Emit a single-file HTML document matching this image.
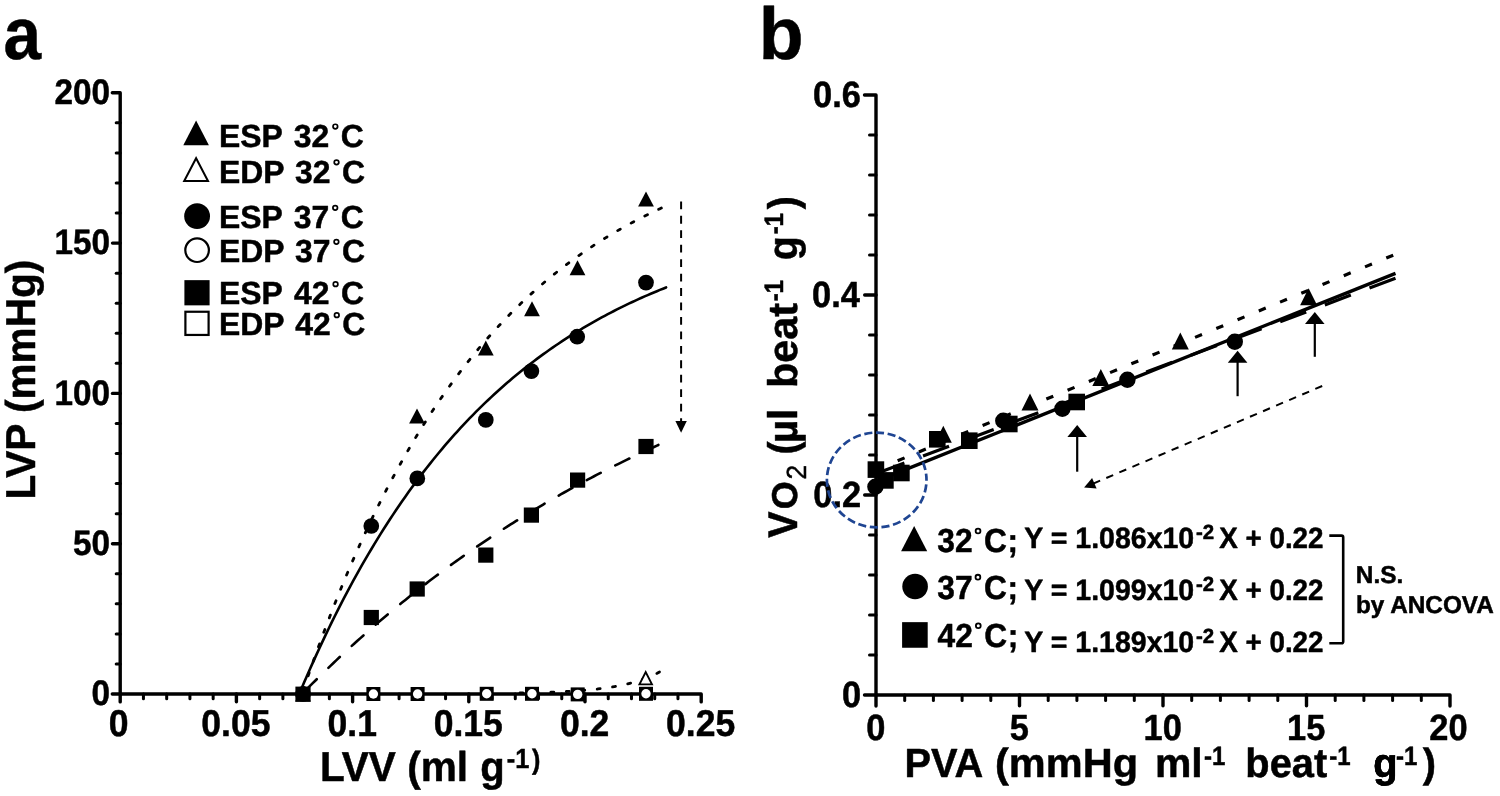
<!DOCTYPE html>
<html><head><meta charset="utf-8"><style>
html,body{margin:0;padding:0;background:#fff;width:1500px;height:796px;overflow:hidden}
svg{display:block;will-change:transform}
text{font-family:"Liberation Sans",sans-serif;fill:#000;stroke:#000;stroke-width:0.5px;stroke-linejoin:round;text-rendering:geometricPrecision}
</style></head><body>
<svg width="1500" height="796" viewBox="0 0 1500 796">
<rect width="1500" height="796" fill="#fff"/>
<path d="M112.30,92.80 H120.20 V701.90" fill="none" stroke="#000" stroke-width="3.4" stroke-linecap="round" stroke-linejoin="round"/>
<path d="M120.20,694.00 H701.20 V701.90" fill="none" stroke="#000" stroke-width="3.4" stroke-linecap="round" stroke-linejoin="round"/>
<path d="M112.30,694.00 H120.20" fill="none" stroke="#000" stroke-width="3.4" stroke-linecap="round" stroke-linejoin="round"/>
<line x1="116.20" y1="663.94" x2="120.20" y2="663.94" stroke="#000" stroke-width="3.0" stroke-linecap="round"/>
<line x1="116.20" y1="633.88" x2="120.20" y2="633.88" stroke="#000" stroke-width="3.0" stroke-linecap="round"/>
<line x1="116.20" y1="603.82" x2="120.20" y2="603.82" stroke="#000" stroke-width="3.0" stroke-linecap="round"/>
<line x1="116.20" y1="573.76" x2="120.20" y2="573.76" stroke="#000" stroke-width="3.0" stroke-linecap="round"/>
<line x1="112.50" y1="543.70" x2="120.20" y2="543.70" stroke="#000" stroke-width="3.4" stroke-linecap="round"/>
<line x1="116.20" y1="513.64" x2="120.20" y2="513.64" stroke="#000" stroke-width="3.0" stroke-linecap="round"/>
<line x1="116.20" y1="483.58" x2="120.20" y2="483.58" stroke="#000" stroke-width="3.0" stroke-linecap="round"/>
<line x1="116.20" y1="453.52" x2="120.20" y2="453.52" stroke="#000" stroke-width="3.0" stroke-linecap="round"/>
<line x1="116.20" y1="423.46" x2="120.20" y2="423.46" stroke="#000" stroke-width="3.0" stroke-linecap="round"/>
<line x1="112.50" y1="393.40" x2="120.20" y2="393.40" stroke="#000" stroke-width="3.4" stroke-linecap="round"/>
<line x1="116.20" y1="363.34" x2="120.20" y2="363.34" stroke="#000" stroke-width="3.0" stroke-linecap="round"/>
<line x1="116.20" y1="333.28" x2="120.20" y2="333.28" stroke="#000" stroke-width="3.0" stroke-linecap="round"/>
<line x1="116.20" y1="303.22" x2="120.20" y2="303.22" stroke="#000" stroke-width="3.0" stroke-linecap="round"/>
<line x1="116.20" y1="273.16" x2="120.20" y2="273.16" stroke="#000" stroke-width="3.0" stroke-linecap="round"/>
<line x1="112.50" y1="243.10" x2="120.20" y2="243.10" stroke="#000" stroke-width="3.4" stroke-linecap="round"/>
<line x1="116.20" y1="213.04" x2="120.20" y2="213.04" stroke="#000" stroke-width="3.0" stroke-linecap="round"/>
<line x1="116.20" y1="182.98" x2="120.20" y2="182.98" stroke="#000" stroke-width="3.0" stroke-linecap="round"/>
<line x1="116.20" y1="152.92" x2="120.20" y2="152.92" stroke="#000" stroke-width="3.0" stroke-linecap="round"/>
<line x1="116.20" y1="122.86" x2="120.20" y2="122.86" stroke="#000" stroke-width="3.0" stroke-linecap="round"/>
<line x1="143.44" y1="698.80" x2="143.44" y2="694.00" stroke="#000" stroke-width="3.0" stroke-linecap="round"/>
<line x1="166.68" y1="698.80" x2="166.68" y2="694.00" stroke="#000" stroke-width="3.0" stroke-linecap="round"/>
<line x1="189.92" y1="698.80" x2="189.92" y2="694.00" stroke="#000" stroke-width="3.0" stroke-linecap="round"/>
<line x1="213.16" y1="698.80" x2="213.16" y2="694.00" stroke="#000" stroke-width="3.0" stroke-linecap="round"/>
<line x1="236.40" y1="701.70" x2="236.40" y2="694.00" stroke="#000" stroke-width="3.4" stroke-linecap="round"/>
<line x1="259.64" y1="698.80" x2="259.64" y2="694.00" stroke="#000" stroke-width="3.0" stroke-linecap="round"/>
<line x1="282.88" y1="698.80" x2="282.88" y2="694.00" stroke="#000" stroke-width="3.0" stroke-linecap="round"/>
<line x1="306.12" y1="698.80" x2="306.12" y2="694.00" stroke="#000" stroke-width="3.0" stroke-linecap="round"/>
<line x1="329.36" y1="698.80" x2="329.36" y2="694.00" stroke="#000" stroke-width="3.0" stroke-linecap="round"/>
<line x1="352.60" y1="701.70" x2="352.60" y2="694.00" stroke="#000" stroke-width="3.4" stroke-linecap="round"/>
<line x1="375.84" y1="698.80" x2="375.84" y2="694.00" stroke="#000" stroke-width="3.0" stroke-linecap="round"/>
<line x1="399.08" y1="698.80" x2="399.08" y2="694.00" stroke="#000" stroke-width="3.0" stroke-linecap="round"/>
<line x1="422.32" y1="698.80" x2="422.32" y2="694.00" stroke="#000" stroke-width="3.0" stroke-linecap="round"/>
<line x1="445.56" y1="698.80" x2="445.56" y2="694.00" stroke="#000" stroke-width="3.0" stroke-linecap="round"/>
<line x1="468.80" y1="701.70" x2="468.80" y2="694.00" stroke="#000" stroke-width="3.4" stroke-linecap="round"/>
<line x1="492.04" y1="698.80" x2="492.04" y2="694.00" stroke="#000" stroke-width="3.0" stroke-linecap="round"/>
<line x1="515.28" y1="698.80" x2="515.28" y2="694.00" stroke="#000" stroke-width="3.0" stroke-linecap="round"/>
<line x1="538.52" y1="698.80" x2="538.52" y2="694.00" stroke="#000" stroke-width="3.0" stroke-linecap="round"/>
<line x1="561.76" y1="698.80" x2="561.76" y2="694.00" stroke="#000" stroke-width="3.0" stroke-linecap="round"/>
<line x1="585.00" y1="701.70" x2="585.00" y2="694.00" stroke="#000" stroke-width="3.4" stroke-linecap="round"/>
<line x1="608.24" y1="698.80" x2="608.24" y2="694.00" stroke="#000" stroke-width="3.0" stroke-linecap="round"/>
<line x1="631.48" y1="698.80" x2="631.48" y2="694.00" stroke="#000" stroke-width="3.0" stroke-linecap="round"/>
<line x1="654.72" y1="698.80" x2="654.72" y2="694.00" stroke="#000" stroke-width="3.0" stroke-linecap="round"/>
<line x1="677.96" y1="698.80" x2="677.96" y2="694.00" stroke="#000" stroke-width="3.0" stroke-linecap="round"/>
<text transform="translate(91.46,705.10) scale(0.94,1)" font-size="35.4" font-weight="bold">0</text>
<text transform="translate(72.95,554.80) scale(0.94,1)" font-size="35.4" font-weight="bold">50</text>
<text transform="translate(54.45,404.50) scale(0.94,1)" font-size="35.4" font-weight="bold">100</text>
<text transform="translate(54.45,254.20) scale(0.94,1)" font-size="35.4" font-weight="bold">150</text>
<text transform="translate(54.45,103.90) scale(0.94,1)" font-size="35.4" font-weight="bold">200</text>
<text transform="translate(108.86,735.90) scale(0.95,1)" font-size="37.4" font-weight="bold">0</text>
<text transform="translate(201.27,735.90) scale(0.95,1)" font-size="37.4" font-weight="bold">0.05</text>
<text transform="translate(327.51,735.90) scale(0.95,1)" font-size="37.4" font-weight="bold">0.1</text>
<text transform="translate(433.67,735.90) scale(0.95,1)" font-size="37.4" font-weight="bold">0.15</text>
<text transform="translate(559.91,735.90) scale(0.95,1)" font-size="37.4" font-weight="bold">0.2</text>
<text transform="translate(666.07,735.90) scale(0.95,1)" font-size="37.4" font-weight="bold">0.25</text>
<text transform="translate(319.89,781.20) scale(0.972,1)" font-size="41.7" font-weight="bold">LVV</text>
<text transform="translate(407.18,781.20) scale(0.975,1)" font-size="41.7" font-weight="bold">(ml</text>
<text transform="translate(480.36,781.20) scale(0.96,1)" font-size="41.7" font-weight="bold">g</text>
<text transform="translate(506.81,767.90) scale(0.92,1)" font-size="27.55" font-weight="bold">-1</text>
<text transform="translate(531.90,769.00) scale(0.9,1)" font-size="27.85" font-weight="bold">)</text>
<g transform="translate(35.1,0) rotate(-90)">
<text transform="translate(-499.52,0.00) scale(0.974,1)" font-size="41.7" font-weight="bold">LVP (mmHg)</text>
</g>
<text transform="translate(3.52,58.60) scale(0.92,1)" font-size="73.4" font-weight="bold">a</text>
<text transform="translate(758.76,58.60) scale(1.0,1)" font-size="73.4" font-weight="bold">b</text>
<polygon points="183.30,145.30 208.90,145.30 196.10,120.50" fill="#000"/>
<text transform="translate(218.97,146.70) scale(1.0,1)" font-size="31.9" font-weight="bold">ESP</text>
<text transform="translate(293.87,146.70) scale(1.0,1)" font-size="31.9" font-weight="bold">32</text>
<circle cx="335.32" cy="126.54" r="2.3" fill="none" stroke="#000" stroke-width="1.7"/>
<text transform="translate(340.86,146.70) scale(1.0,1)" font-size="31.9" font-weight="bold">C</text>
<polygon points="184.20,181.05 208.00,181.05 196.10,158.25" fill="#fff" stroke="#000" stroke-width="2" stroke-linejoin="miter"/>
<text transform="translate(218.97,182.50) scale(1.0,1)" font-size="31.9" font-weight="bold">EDP</text>
<text transform="translate(295.07,182.50) scale(1.0,1)" font-size="31.9" font-weight="bold">32</text>
<circle cx="336.52" cy="162.34" r="2.3" fill="none" stroke="#000" stroke-width="1.7"/>
<text transform="translate(342.06,182.50) scale(1.0,1)" font-size="31.9" font-weight="bold">C</text>
<circle cx="197.10" cy="216.20" r="12.90" fill="#000"/>
<text transform="translate(218.97,228.00) scale(1.0,1)" font-size="31.9" font-weight="bold">ESP</text>
<text transform="translate(293.87,228.00) scale(1.0,1)" font-size="31.9" font-weight="bold">37</text>
<circle cx="335.20" cy="207.84" r="2.3" fill="none" stroke="#000" stroke-width="1.7"/>
<text transform="translate(340.74,228.00) scale(1.0,1)" font-size="31.9" font-weight="bold">C</text>
<circle cx="197.10" cy="250.20" r="11.80" fill="#fff" stroke="#000" stroke-width="2.2"/>
<text transform="translate(218.97,262.00) scale(1.0,1)" font-size="31.9" font-weight="bold">EDP</text>
<text transform="translate(295.07,262.00) scale(1.0,1)" font-size="31.9" font-weight="bold">37</text>
<circle cx="336.40" cy="241.84" r="2.3" fill="none" stroke="#000" stroke-width="1.7"/>
<text transform="translate(341.94,262.00) scale(1.0,1)" font-size="31.9" font-weight="bold">C</text>
<rect x="184.40" y="280.15" width="25.20" height="25.20" fill="#000"/>
<text transform="translate(218.97,304.30) scale(1.0,1)" font-size="31.9" font-weight="bold">ESP</text>
<text transform="translate(294.12,304.30) scale(1.0,1)" font-size="31.9" font-weight="bold">42</text>
<circle cx="335.57" cy="284.14" r="2.3" fill="none" stroke="#000" stroke-width="1.7"/>
<text transform="translate(341.11,304.30) scale(1.0,1)" font-size="31.9" font-weight="bold">C</text>
<rect x="185.40" y="311.75" width="23.20" height="23.20" fill="#fff" stroke="#000" stroke-width="2.2"/>
<text transform="translate(218.97,335.30) scale(1.0,1)" font-size="31.9" font-weight="bold">EDP</text>
<text transform="translate(295.32,335.30) scale(1.0,1)" font-size="31.9" font-weight="bold">42</text>
<circle cx="336.77" cy="315.14" r="2.3" fill="none" stroke="#000" stroke-width="1.7"/>
<text transform="translate(342.31,335.30) scale(1.0,1)" font-size="31.9" font-weight="bold">C</text>
<path d="M301.00,689.78 L304.07,682.58 L307.14,675.49 L310.20,668.51 L313.27,661.63 L316.34,654.85 L319.41,648.17 L322.48,641.59 L325.54,635.11 L328.61,628.73 L331.68,622.44 L334.75,616.25 L337.82,610.14 L340.88,604.13 L343.95,598.21 L347.02,592.38 L350.09,586.63 L353.16,580.97 L356.23,575.39 L359.29,569.90 L362.36,564.48 L365.43,559.15 L368.50,553.90 L371.57,548.72 L374.63,543.63 L377.70,538.61 L380.77,533.66 L383.84,528.79 L386.91,523.98 L389.97,519.26 L393.04,514.60 L396.11,510.01 L399.18,505.49 L402.25,501.03 L405.31,496.64 L408.38,492.32 L411.45,488.06 L414.52,483.87 L417.59,479.74 L420.65,475.67 L423.72,471.66 L426.79,467.71 L429.86,463.82 L432.93,459.98 L435.99,456.21 L439.06,452.49 L442.13,448.82 L445.20,445.21 L448.27,441.65 L451.34,438.15 L454.40,434.70 L457.47,431.30 L460.54,427.95 L463.61,424.65 L466.68,421.40 L469.74,418.20 L472.81,415.04 L475.88,411.94 L478.95,408.88 L482.02,405.86 L485.08,402.89 L488.15,399.96 L491.22,397.08 L494.29,394.24 L497.36,391.44 L500.42,388.69 L503.49,385.97 L506.56,383.30 L509.63,380.66 L512.70,378.07 L515.76,375.51 L518.83,372.99 L521.90,370.51 L524.97,368.06 L528.04,365.66 L531.11,363.28 L534.17,360.95 L537.24,358.64 L540.31,356.38 L543.38,354.14 L546.45,351.94 L549.51,349.77 L552.58,347.64 L555.65,345.53 L558.72,343.46 L561.79,341.42 L564.85,339.41 L567.92,337.43 L570.99,335.47 L574.06,333.55 L577.13,331.66 L580.19,329.79 L583.26,327.95 L586.33,326.14 L589.40,324.36 L592.47,322.60 L595.53,320.87 L598.60,319.16 L601.67,317.48 L604.74,315.83 L607.81,314.20 L610.87,312.59 L613.94,311.01 L617.01,309.45 L620.08,307.92 L623.15,306.40 L626.22,304.91 L629.28,303.44 L632.35,302.00 L635.42,300.57 L638.49,299.17 L641.56,297.79 L644.62,296.43 L647.69,295.08 L650.76,293.76 L653.83,292.46 L656.90,291.18 L659.96,289.91 L663.03,288.67 L666.10,287.44" fill="none" stroke="#000" stroke-width="2.6" stroke-linecap="round" stroke-linejoin="round"/>
<path d="M662.50,207.50 L659.48,208.90 L656.46,210.32 L653.44,211.76 L650.42,213.22 L647.39,214.71 L644.37,216.22 L641.35,217.75 L638.33,219.31 L635.31,220.89 L632.29,222.50 L629.27,224.14 L626.25,225.80 L623.23,227.48 L620.21,229.19 L617.18,230.93 L614.16,232.70 L611.14,234.49 L608.12,236.32 L605.10,238.17 L602.08,240.05 L599.06,241.96 L596.04,243.90 L593.02,245.88 L590.00,247.88 L586.97,249.92 L583.95,251.98 L580.93,254.08 L577.91,256.22 L574.89,258.38 L571.87,260.59 L568.85,262.82 L565.83,265.09 L562.81,267.40 L559.79,269.75 L556.76,272.13 L553.74,274.55 L550.72,277.00 L547.70,279.50 L544.68,282.03 L541.66,284.61 L538.64,287.23 L535.62,289.89 L532.60,292.59 L529.58,295.33 L526.55,298.11 L523.53,300.94 L520.51,303.82 L517.49,306.74 L514.47,309.71 L511.45,312.72 L508.43,315.78 L505.41,318.89 L502.39,322.05 L499.37,325.26 L496.34,328.52 L493.32,331.83 L490.30,335.20 L487.28,338.61 L484.26,342.09 L481.24,345.61 L478.22,349.19 L475.20,352.83 L472.18,356.53 L469.16,360.28 L466.13,364.10 L463.11,367.97 L460.09,371.91 L457.07,375.91 L454.05,379.97 L451.03,384.10 L448.01,388.29 L444.99,392.54 L441.97,396.87 L438.95,401.26 L435.92,405.73 L432.90,410.26 L429.88,414.86 L426.86,419.54 L423.84,424.30 L420.82,429.12 L417.80,434.03 L414.78,439.01 L411.76,444.07 L408.74,449.21 L405.71,454.43 L402.69,459.74 L399.67,465.12 L396.65,470.60 L393.63,476.16 L390.61,481.81 L387.59,487.55 L384.57,493.37 L381.55,499.30 L378.53,505.31 L375.50,511.42 L372.48,517.63 L369.46,523.93 L366.44,530.34 L363.42,536.84 L360.40,543.45 L357.38,550.16 L354.36,556.98 L351.34,563.91 L348.32,570.95 L345.29,578.10 L342.27,585.36 L339.25,592.74 L336.23,600.23 L333.21,607.84 L330.19,615.58 L327.17,623.43 L324.15,631.41 L321.13,639.52 L318.11,647.75 L315.08,656.12 L312.06,664.61 L309.04,673.24 L306.02,682.01 L303.00,690.92" fill="none" stroke="#000" stroke-width="2.8" stroke-linecap="round" stroke-linejoin="round" stroke-dasharray="3 12.394" stroke-dashoffset="14.144"/>
<path d="M660.00,444.25 L657.00,445.60 L654.01,446.96 L651.01,448.33 L648.02,449.72 L645.02,451.11 L642.03,452.51 L639.03,453.92 L636.03,455.34 L633.04,456.76 L630.04,458.20 L627.05,459.65 L624.05,461.11 L621.05,462.58 L618.06,464.06 L615.06,465.55 L612.07,467.05 L609.07,468.56 L606.08,470.08 L603.08,471.61 L600.08,473.15 L597.09,474.70 L594.09,476.27 L591.10,477.84 L588.10,479.42 L585.11,481.02 L582.11,482.62 L579.11,484.24 L576.12,485.87 L573.12,487.51 L570.13,489.16 L567.13,490.82 L564.13,492.50 L561.14,494.18 L558.14,495.88 L555.15,497.59 L552.15,499.31 L549.16,501.04 L546.16,502.79 L543.16,504.54 L540.17,506.31 L537.17,508.09 L534.18,509.89 L531.18,511.69 L528.18,513.51 L525.19,515.34 L522.19,517.18 L519.20,519.04 L516.20,520.91 L513.21,522.79 L510.21,524.68 L507.21,526.59 L504.22,528.51 L501.22,530.44 L498.23,532.39 L495.23,534.35 L492.24,536.33 L489.24,538.31 L486.24,540.31 L483.25,542.33 L480.25,544.36 L477.26,546.40 L474.26,548.46 L471.26,550.53 L468.27,552.62 L465.27,554.72 L462.28,556.83 L459.28,558.96 L456.29,561.10 L453.29,563.26 L450.29,565.44 L447.30,567.62 L444.30,569.83 L441.31,572.05 L438.31,574.28 L435.32,576.53 L432.32,578.79 L429.32,581.08 L426.33,583.37 L423.33,585.68 L420.34,588.01 L417.34,590.36 L414.34,592.72 L411.35,595.09 L408.35,597.49 L405.36,599.90 L402.36,602.32 L399.37,604.76 L396.37,607.22 L393.37,609.70 L390.38,612.19 L387.38,614.71 L384.39,617.23 L381.39,619.78 L378.39,622.34 L375.40,624.92 L372.40,627.52 L369.41,630.14 L366.41,632.77 L363.42,635.43 L360.42,638.10 L357.42,640.79 L354.43,643.49 L351.43,646.22 L348.44,648.97 L345.44,651.73 L342.45,654.52 L339.45,657.32 L336.45,660.14 L333.46,662.98 L330.46,665.84 L327.47,668.72 L324.47,671.62 L321.47,674.55 L318.48,677.49 L315.48,680.45 L312.49,683.43 L309.49,686.43 L306.50,689.45 L303.50,692.50" fill="none" stroke="#000" stroke-width="2.6" stroke-linecap="round" stroke-linejoin="round" stroke-dasharray="15.7 16.34" stroke-dashoffset="30.28"/>
<path d="M659.50,672.00 L657.14,673.24 L654.77,674.41 L652.41,675.51 L650.04,676.55 L647.68,677.53 L645.31,678.45 L642.95,679.32 L640.58,680.14 L638.22,680.91 L635.86,681.64 L633.49,682.33 L631.13,682.97 L628.76,683.58 L626.40,684.16 L624.03,684.70 L621.67,685.21 L619.31,685.69 L616.94,686.15 L614.58,686.57 L612.21,686.98 L609.85,687.36 L607.48,687.72 L605.12,688.05 L602.75,688.37 L600.39,688.67 L598.03,688.96 L595.66,689.22 L593.30,689.47 L590.93,689.71 L588.57,689.93 L586.20,690.14 L583.84,690.34 L581.47,690.53 L579.11,690.71 L576.75,690.87 L574.38,691.03 L572.02,691.18 L569.65,691.31 L567.29,691.45 L564.92,691.57 L562.56,691.69 L560.19,691.80 L557.83,691.90 L555.47,692.00 L553.10,692.09 L550.74,692.18 L548.37,692.26 L546.01,692.33 L543.64,692.41 L541.28,692.48 L538.92,692.54 L536.55,692.60 L534.19,692.66 L531.82,692.71 L529.46,692.76 L527.09,692.81 L524.73,692.86 L522.36,692.90 L520.00,692.94" fill="none" stroke="#000" stroke-width="2.8" stroke-linecap="round" stroke-linejoin="round" stroke-dasharray="3 12.5"/>
<polygon points="295.10,701.55 310.90,701.55 303.00,686.45" fill="#000"/>
<polygon points="409.10,423.55 424.90,423.55 417.00,408.45" fill="#000"/>
<polygon points="477.90,355.55 493.70,355.55 485.80,340.45" fill="#000"/>
<polygon points="524.10,316.25 539.90,316.25 532.00,301.15" fill="#000"/>
<polygon points="569.60,275.35 585.40,275.35 577.50,260.25" fill="#000"/>
<polygon points="638.10,206.55 653.90,206.55 646.00,191.45" fill="#000"/>
<circle cx="303.00" cy="694.00" r="7.85" fill="#000"/>
<circle cx="371.30" cy="526.00" r="7.85" fill="#000"/>
<circle cx="417.30" cy="478.40" r="7.85" fill="#000"/>
<circle cx="485.80" cy="419.90" r="7.85" fill="#000"/>
<circle cx="531.40" cy="371.10" r="7.85" fill="#000"/>
<circle cx="577.20" cy="336.70" r="7.85" fill="#000"/>
<circle cx="646.00" cy="282.60" r="7.85" fill="#000"/>
<rect x="295.40" y="686.60" width="15.20" height="15.20" fill="#000"/>
<rect x="363.70" y="609.90" width="15.20" height="15.20" fill="#000"/>
<rect x="409.60" y="581.40" width="15.20" height="15.20" fill="#000"/>
<rect x="478.20" y="547.50" width="15.20" height="15.20" fill="#000"/>
<rect x="523.80" y="507.50" width="15.20" height="15.20" fill="#000"/>
<rect x="570.00" y="472.50" width="15.20" height="15.20" fill="#000"/>
<rect x="638.40" y="438.90" width="15.20" height="15.20" fill="#000"/>
<rect x="366.40" y="687.00" width="14.00" height="14.00" fill="#000"/>
<circle cx="373.40" cy="694.00" r="4.70" fill="#fff"/>
<rect x="410.60" y="687.00" width="14.00" height="14.00" fill="#000"/>
<circle cx="417.60" cy="694.00" r="4.70" fill="#fff"/>
<rect x="479.70" y="686.80" width="14.00" height="14.00" fill="#000"/>
<circle cx="486.70" cy="693.80" r="4.70" fill="#fff"/>
<rect x="525.00" y="686.80" width="14.00" height="14.00" fill="#000"/>
<circle cx="532.00" cy="693.80" r="4.70" fill="#fff"/>
<rect x="570.70" y="687.40" width="14.00" height="14.00" fill="#000"/>
<circle cx="577.70" cy="694.40" r="4.70" fill="#fff"/>
<rect x="639.00" y="686.80" width="14.00" height="14.00" fill="#000"/>
<circle cx="646.00" cy="693.80" r="4.70" fill="#fff"/>
<polygon points="639.45,684.40 651.95,684.40 645.70,672.00" fill="#fff" stroke="#000" stroke-width="1.9" stroke-linejoin="miter"/>
<line x1="681.10" y1="201.40" x2="681.10" y2="424.00" stroke="#000" stroke-width="2" stroke-linecap="butt" stroke-dasharray="7.8 6.65"/>
<polygon points="675.4,420.9 686.8,420.9 681.1,432.7" fill="#000"/>
<path d="M864.50,95.00 H876.00 V706.00" fill="none" stroke="#000" stroke-width="3.4" stroke-linecap="round" stroke-linejoin="round"/>
<path d="M876.00,695.00 H1450.00 V706.00" fill="none" stroke="#000" stroke-width="3.4" stroke-linecap="round" stroke-linejoin="round"/>
<path d="M864.50,695.00 H876.00" fill="none" stroke="#000" stroke-width="3.4" stroke-linecap="round" stroke-linejoin="round"/>
<line x1="869.50" y1="655.00" x2="876.00" y2="655.00" stroke="#000" stroke-width="3.0" stroke-linecap="round"/>
<line x1="869.50" y1="615.00" x2="876.00" y2="615.00" stroke="#000" stroke-width="3.0" stroke-linecap="round"/>
<line x1="869.50" y1="575.00" x2="876.00" y2="575.00" stroke="#000" stroke-width="3.0" stroke-linecap="round"/>
<line x1="869.50" y1="535.00" x2="876.00" y2="535.00" stroke="#000" stroke-width="3.0" stroke-linecap="round"/>
<line x1="864.70" y1="495.00" x2="876.00" y2="495.00" stroke="#000" stroke-width="3.4" stroke-linecap="round"/>
<line x1="869.50" y1="455.00" x2="876.00" y2="455.00" stroke="#000" stroke-width="3.0" stroke-linecap="round"/>
<line x1="869.50" y1="415.00" x2="876.00" y2="415.00" stroke="#000" stroke-width="3.0" stroke-linecap="round"/>
<line x1="869.50" y1="375.00" x2="876.00" y2="375.00" stroke="#000" stroke-width="3.0" stroke-linecap="round"/>
<line x1="869.50" y1="335.00" x2="876.00" y2="335.00" stroke="#000" stroke-width="3.0" stroke-linecap="round"/>
<line x1="864.70" y1="295.00" x2="876.00" y2="295.00" stroke="#000" stroke-width="3.4" stroke-linecap="round"/>
<line x1="869.50" y1="255.00" x2="876.00" y2="255.00" stroke="#000" stroke-width="3.0" stroke-linecap="round"/>
<line x1="869.50" y1="215.00" x2="876.00" y2="215.00" stroke="#000" stroke-width="3.0" stroke-linecap="round"/>
<line x1="869.50" y1="175.00" x2="876.00" y2="175.00" stroke="#000" stroke-width="3.0" stroke-linecap="round"/>
<line x1="869.50" y1="135.00" x2="876.00" y2="135.00" stroke="#000" stroke-width="3.0" stroke-linecap="round"/>
<line x1="904.70" y1="700.50" x2="904.70" y2="695.00" stroke="#000" stroke-width="3.0" stroke-linecap="round"/>
<line x1="933.40" y1="700.50" x2="933.40" y2="695.00" stroke="#000" stroke-width="3.0" stroke-linecap="round"/>
<line x1="962.10" y1="700.50" x2="962.10" y2="695.00" stroke="#000" stroke-width="3.0" stroke-linecap="round"/>
<line x1="990.80" y1="700.50" x2="990.80" y2="695.00" stroke="#000" stroke-width="3.0" stroke-linecap="round"/>
<line x1="1019.50" y1="705.80" x2="1019.50" y2="695.00" stroke="#000" stroke-width="3.4" stroke-linecap="round"/>
<line x1="1048.20" y1="700.50" x2="1048.20" y2="695.00" stroke="#000" stroke-width="3.0" stroke-linecap="round"/>
<line x1="1076.90" y1="700.50" x2="1076.90" y2="695.00" stroke="#000" stroke-width="3.0" stroke-linecap="round"/>
<line x1="1105.60" y1="700.50" x2="1105.60" y2="695.00" stroke="#000" stroke-width="3.0" stroke-linecap="round"/>
<line x1="1134.30" y1="700.50" x2="1134.30" y2="695.00" stroke="#000" stroke-width="3.0" stroke-linecap="round"/>
<line x1="1163.00" y1="705.80" x2="1163.00" y2="695.00" stroke="#000" stroke-width="3.4" stroke-linecap="round"/>
<line x1="1191.70" y1="700.50" x2="1191.70" y2="695.00" stroke="#000" stroke-width="3.0" stroke-linecap="round"/>
<line x1="1220.40" y1="700.50" x2="1220.40" y2="695.00" stroke="#000" stroke-width="3.0" stroke-linecap="round"/>
<line x1="1249.10" y1="700.50" x2="1249.10" y2="695.00" stroke="#000" stroke-width="3.0" stroke-linecap="round"/>
<line x1="1277.80" y1="700.50" x2="1277.80" y2="695.00" stroke="#000" stroke-width="3.0" stroke-linecap="round"/>
<line x1="1306.50" y1="705.80" x2="1306.50" y2="695.00" stroke="#000" stroke-width="3.4" stroke-linecap="round"/>
<line x1="1335.20" y1="700.50" x2="1335.20" y2="695.00" stroke="#000" stroke-width="3.0" stroke-linecap="round"/>
<line x1="1363.90" y1="700.50" x2="1363.90" y2="695.00" stroke="#000" stroke-width="3.0" stroke-linecap="round"/>
<line x1="1392.60" y1="700.50" x2="1392.60" y2="695.00" stroke="#000" stroke-width="3.0" stroke-linecap="round"/>
<line x1="1421.30" y1="700.50" x2="1421.30" y2="695.00" stroke="#000" stroke-width="3.0" stroke-linecap="round"/>
<text transform="translate(841.98,706.60) scale(0.945,1)" font-size="36.4" font-weight="bold">0</text>
<text transform="translate(813.26,506.60) scale(0.945,1)" font-size="36.4" font-weight="bold">0.2</text>
<text transform="translate(812.07,306.60) scale(0.945,1)" font-size="36.4" font-weight="bold">0.4</text>
<text transform="translate(813.12,106.60) scale(0.945,1)" font-size="36.4" font-weight="bold">0.6</text>
<text transform="translate(866.28,740.30) scale(0.945,1)" font-size="36.4" font-weight="bold">0</text>
<text transform="translate(1009.78,740.30) scale(0.945,1)" font-size="36.4" font-weight="bold">5</text>
<text transform="translate(1143.55,740.30) scale(0.945,1)" font-size="36.4" font-weight="bold">10</text>
<text transform="translate(1287.05,740.30) scale(0.945,1)" font-size="36.4" font-weight="bold">15</text>
<text transform="translate(1429.25,740.30) scale(0.945,1)" font-size="36.4" font-weight="bold">20</text>
<text transform="translate(904.44,777.00) scale(0.974,1)" font-size="40.9" font-weight="bold">PVA</text>
<text transform="translate(995.03,777.00) scale(1.015,1)" font-size="40.9" font-weight="bold">(mmHg</text>
<text transform="translate(1155.00,777.00) scale(1.0,1)" font-size="40.9" font-weight="bold">ml</text>
<text transform="translate(1204.06,765.30) scale(0.9,1)" font-size="26.65" font-weight="bold">-1</text>
<text transform="translate(1245.37,777.00) scale(0.974,1)" font-size="40.9" font-weight="bold">beat</text>
<text transform="translate(1329.34,765.30) scale(0.9,1)" font-size="26.65" font-weight="bold">-1</text>
<text transform="translate(1373.37,777.00) scale(0.974,1)" font-size="40.9" font-weight="bold">g</text>
<text transform="translate(1373.37,777.00) scale(0.974,1)" font-size="40.9" font-weight="bold">g</text>
<text transform="translate(1396.10,765.30) scale(0.9,1)" font-size="26.65" font-weight="bold">-1</text>
<text transform="translate(1422.72,777.00) scale(0.974,1)" font-size="40.9" font-weight="bold">)</text>
<g transform="translate(796.5,0) rotate(-90)">
<text transform="translate(-537.87,0.00) scale(0.95,1)" font-size="41.4" font-weight="bold">V</text>
<text transform="translate(-509.37,0.00) scale(1.0,1)" font-size="35.9" font-weight="bold">O</text>
<text transform="translate(-479.62,9.70) scale(0.95,1)" font-size="27.65" font-weight="normal">2</text>
<text transform="translate(-454.56,0.00) scale(0.95,1)" font-size="41.4" font-weight="bold">(</text>
<text transform="translate(-443.25,0.00) scale(0.98,1)" font-size="41.4" font-weight="bold">µl</text>
<text transform="translate(-388.03,0.00) scale(1.0,1)" font-size="41.4" font-weight="bold">beat</text>
<text transform="translate(-301.36,-13.60) scale(0.9,1)" font-size="26.65" font-weight="bold">-1</text>
<text transform="translate(-260.21,0.00) scale(0.95,1)" font-size="41.4" font-weight="bold">g</text>
<text transform="translate(-234.36,-13.60) scale(0.9,1)" font-size="26.65" font-weight="bold">-1</text>
<text transform="translate(-209.34,0.00) scale(0.95,1)" font-size="41.4" font-weight="bold">)</text>
</g>
<line x1="1393.20" y1="255.20" x2="876.00" y2="469.74" stroke="#000" stroke-width="3.2" stroke-linecap="butt" stroke-dasharray="7.5 15.5"/>
<line x1="876.00" y1="481.42" x2="1395.50" y2="273.31" stroke="#000" stroke-width="3.4" stroke-linecap="butt"/>
<line x1="1395.50" y1="278.32" x2="876.00" y2="473.75" stroke="#000" stroke-width="3.2" stroke-linecap="butt" stroke-dasharray="27.8 19.9"/>
<polygon points="934.80,442.80 951.80,442.80 943.30,425.80" fill="#000"/>
<polygon points="1021.50,410.40 1038.50,410.40 1030.00,393.40" fill="#000"/>
<polygon points="1092.30,385.90 1109.30,385.90 1100.80,368.90" fill="#000"/>
<polygon points="1171.80,349.40 1188.80,349.40 1180.30,332.40" fill="#000"/>
<polygon points="1300.10,305.30 1317.10,305.30 1308.60,288.30" fill="#000"/>
<circle cx="875.40" cy="486.80" r="8.20" fill="#000"/>
<circle cx="1003.30" cy="420.70" r="8.20" fill="#000"/>
<circle cx="1062.40" cy="408.70" r="8.20" fill="#000"/>
<circle cx="1127.40" cy="379.80" r="8.20" fill="#000"/>
<circle cx="1234.80" cy="341.70" r="8.20" fill="#000"/>
<rect x="867.60" y="461.30" width="16.60" height="16.60" fill="#000"/>
<rect x="877.10" y="472.10" width="16.60" height="16.60" fill="#000"/>
<rect x="893.10" y="464.70" width="16.60" height="16.60" fill="#000"/>
<rect x="929.00" y="431.00" width="16.60" height="16.60" fill="#000"/>
<rect x="961.00" y="432.40" width="16.60" height="16.60" fill="#000"/>
<rect x="1001.00" y="415.70" width="16.60" height="16.60" fill="#000"/>
<rect x="1068.40" y="393.70" width="16.60" height="16.60" fill="#000"/>
<line x1="1077.20" y1="433.10" x2="1077.20" y2="471.70" stroke="#000" stroke-width="2.2" stroke-linecap="butt" />
<polygon points="1067.40,437.10 1087.00,437.10 1077.20,425.10" fill="#000"/>
<line x1="1237.60" y1="358.80" x2="1237.60" y2="396.20" stroke="#000" stroke-width="2.2" stroke-linecap="butt" />
<polygon points="1227.80,362.80 1247.40,362.80 1237.60,350.80" fill="#000"/>
<line x1="1314.80" y1="319.90" x2="1314.80" y2="356.80" stroke="#000" stroke-width="2.2" stroke-linecap="butt" />
<polygon points="1305.00,323.90 1324.60,323.90 1314.80,311.90" fill="#000"/>
<line x1="1322.20" y1="386.00" x2="1092.50" y2="483.90" stroke="#000" stroke-width="2" stroke-linecap="butt" stroke-dasharray="7.5 6.7"/>
<polygon points="1084.1,487.5 1092.1,478.1 1096.6,488.6" fill="#000"/>
<ellipse cx="876.7" cy="480" rx="49.8" ry="47.4" fill="none" stroke="#1f4592" stroke-width="2.7" stroke-dasharray="8.1 3.66" stroke-dashoffset="7.25"/>
<polygon points="901.10,551.20 927.20,551.20 914.15,526.10" fill="#000"/>
<text transform="translate(937.27,552.40) scale(0.95,1)" font-size="33.4" font-weight="bold">32</text>
<circle cx="978.04" cy="531.07" r="2.4" fill="none" stroke="#000" stroke-width="1.8"/>
<text transform="translate(984.09,552.40) scale(0.95,1)" font-size="33.4" font-weight="bold">C</text>
<text transform="translate(1007.62,552.40) scale(0.95,1)" font-size="33.4" font-weight="bold">;</text>
<text transform="translate(1024.31,547.80) scale(0.97,1)" font-size="29.4" font-weight="bold">Y = 1.086x10</text>
<text transform="translate(1196.00,539.40) scale(1.0,1)" font-size="20.45" font-weight="bold">-2</text>
<text transform="translate(1219.26,547.80) scale(0.945,1)" font-size="29.4" font-weight="bold">X + 0.22</text>
<circle cx="915.10" cy="586.45" r="12.80" fill="#000"/>
<text transform="translate(937.27,598.50) scale(0.95,1)" font-size="33.4" font-weight="bold">37</text>
<circle cx="977.92" cy="577.17" r="2.4" fill="none" stroke="#000" stroke-width="1.8"/>
<text transform="translate(983.97,598.50) scale(0.95,1)" font-size="33.4" font-weight="bold">C</text>
<text transform="translate(1007.50,598.50) scale(0.95,1)" font-size="33.4" font-weight="bold">;</text>
<text transform="translate(1024.31,599.50) scale(0.97,1)" font-size="29.4" font-weight="bold">Y = 1.099x10</text>
<text transform="translate(1196.00,591.10) scale(1.0,1)" font-size="20.45" font-weight="bold">-2</text>
<text transform="translate(1219.26,599.50) scale(0.945,1)" font-size="29.4" font-weight="bold">X + 0.22</text>
<rect x="902.10" y="622.15" width="25.60" height="25.60" fill="#000"/>
<text transform="translate(937.52,647.10) scale(0.95,1)" font-size="33.4" font-weight="bold">42</text>
<circle cx="978.29" cy="625.77" r="2.4" fill="none" stroke="#000" stroke-width="1.8"/>
<text transform="translate(984.34,647.10) scale(0.95,1)" font-size="33.4" font-weight="bold">C</text>
<text transform="translate(1007.87,647.10) scale(0.95,1)" font-size="33.4" font-weight="bold">;</text>
<text transform="translate(1024.31,651.80) scale(0.97,1)" font-size="29.4" font-weight="bold">Y = 1.189x10</text>
<text transform="translate(1196.00,643.40) scale(1.0,1)" font-size="20.45" font-weight="bold">-2</text>
<text transform="translate(1219.26,651.80) scale(0.945,1)" font-size="29.4" font-weight="bold">X + 0.22</text>
<path d="M1329.3,535.6 L1341.5,535.6 Q1343.2,535.6 1343.2,537.5 L1343.2,641.5 Q1343.2,643.3 1341.5,643.3 L1329.3,643.3" fill="none" stroke="#000" stroke-width="2.6"/>
<text transform="translate(1355.87,582.50) scale(1.0,1)" font-size="24.35" font-weight="bold">N.S.</text>
<text transform="translate(1355.89,612.50) scale(1.0,1)" font-size="24.35" font-weight="bold">by ANCOVA</text>
</svg>
</body></html>
